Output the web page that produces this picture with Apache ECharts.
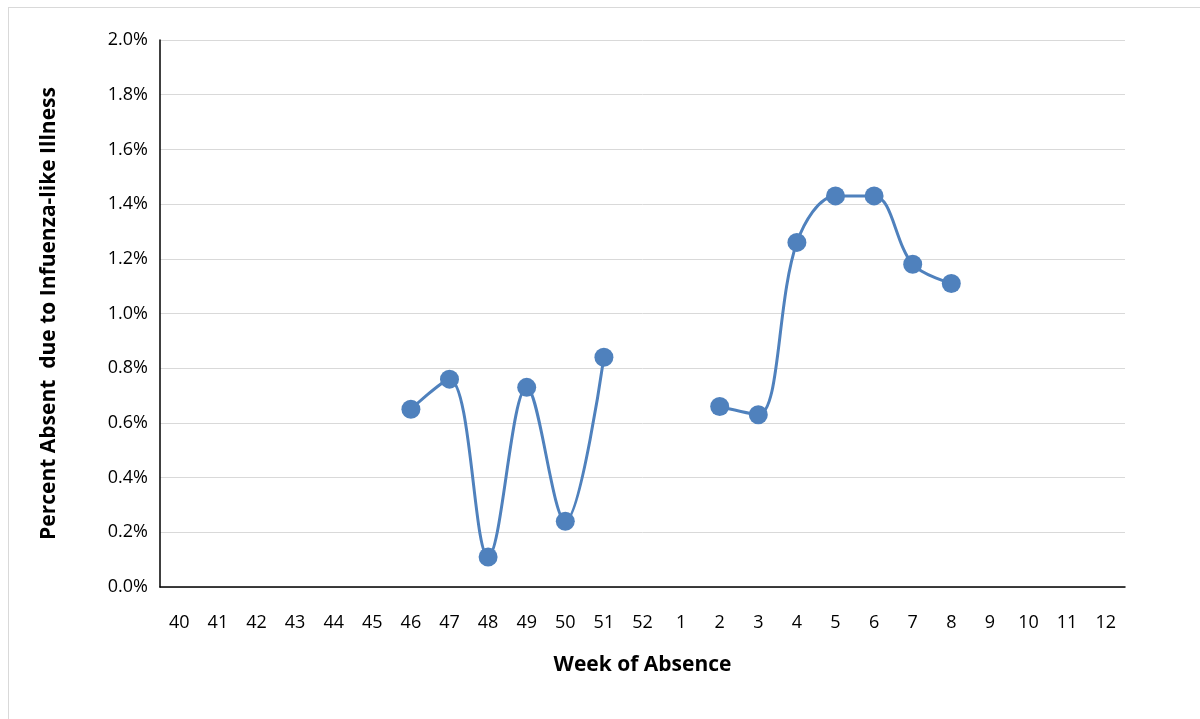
<!DOCTYPE html>
<html><head><meta charset="utf-8">
<script src="https://cdn.jsdelivr.net/npm/echarts@6/dist/echarts.min.js"></script>
<style>
html,body{margin:0;padding:0;background:#fff;}
#frame{position:absolute;left:8px;top:7px;width:1200px;height:720px;border:1px solid #d9d9d9;}
#chart{position:absolute;left:0;top:0;width:1200px;height:719px;}
</style></head>
<body>
<div id="frame"></div>
<div id="chart"></div>
<script>
const weeks = ['40','41','42','43','44','45','46','47','48','49','50','51','52','1','2','3','4','5','6','7','8','9','10','11','12'];
const pctAbsent = [null,null,null,null,null,null,0.65,0.76,0.11,0.73,0.24,0.84,null,null,0.66,0.63,1.26,1.43,1.43,1.18,1.11,null,null,null,null];
const yTicks = { min: 0, max: 2.0, interval: 0.2 };

const chart = echarts.init(document.getElementById('chart'));
chart.setOption({
  animation: false,
  grid: { left: 160, right: 75, top: 40, bottom: 132 },
  xAxis: {
    type: 'category', data: weeks, boundaryGap: true,
    name: 'Week of Absence', nameLocation: 'middle', nameGap: 68,
    nameTextStyle: { fontFamily: 'Open Sans', fontWeight: 'bold', fontSize: 21, color: '#000' },
    axisLine: { lineStyle: { color: '#000', width: 1.5 } },
    axisTick: { show: false },
    axisLabel: { fontFamily: 'Open Sans', fontSize: 18, color: '#000', margin: 27, interval: 0 }
  },
  yAxis: {
    type: 'value', min: yTicks.min, max: yTicks.max, interval: yTicks.interval,
    name: 'Percent Absent  due to Infuenza-like Illness', nameLocation: 'middle', nameGap: 100,
    nameTextStyle: { fontFamily: 'Open Sans', fontWeight: 'bold', fontSize: 21, color: '#000' },
    axisLine: { show: true, lineStyle: { color: '#000', width: 1.5 } },
    splitLine: { lineStyle: { color: '#d9d9d9' } },
    axisLabel: { fontFamily: 'Open Sans', fontSize: 18, color: '#000', margin: 12,
      formatter: v => v.toFixed(1) + '%' }
  },
  series: [{
    type: 'line', data: pctAbsent, smooth: 0.35, connectNulls: false,
    symbol: 'circle', symbolSize: 19,
    lineStyle: { color: '#4f81bd', width: 3 },
    itemStyle: { color: '#4f81bd' }
  }]
});
</script>
</body></html>
